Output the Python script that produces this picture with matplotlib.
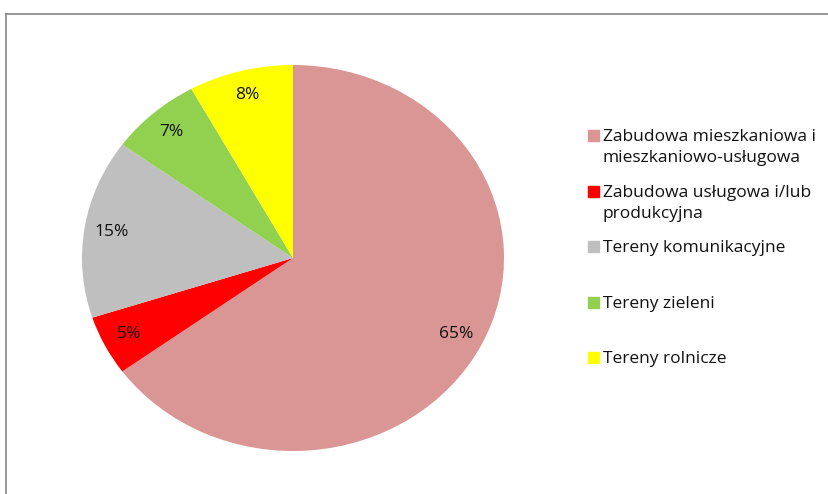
import matplotlib.pyplot as plt
from matplotlib.patches import Rectangle
from matplotlib.lines import Line2D

# dane
kategorie = ["Zabudowa mieszkaniowa i\nmieszkaniowo-usługowa",
             "Zabudowa usługowa i/lub\nprodukcyjna",
             "Tereny komunikacyjne",
             "Tereny zieleni",
             "Tereny rolnicze"]
udzialy = [65, 5, 15, 7, 8]
kolory = ["#D99694", "#FF0000", "#BFBFBF", "#92D050", "#FFFF00"]

plt.rcParams['font.family'] = ['Open Sans', 'DejaVu Sans']

W, H = 829, 494
fig = plt.figure(figsize=(W / 100, H / 100), dpi=100)

# ramka wykresu (ucieta z prawej i od dolu)
fig.add_artist(Line2D([6 / W, 1], [1 - 14 / H, 1 - 14 / H], color="#868686", lw=1.2))
fig.add_artist(Line2D([6 / W, 6 / W], [0, 1 - 14 / H], color="#868686", lw=1.2))

# kolo (lekko rozciagniete poziomo jak na oryginale)
x0, x1, y0, y1 = 82, 504, 65, 451
ax = fig.add_axes([x0 / W, 1 - y1 / H, (x1 - x0) / W, (y1 - y0) / H])
wedges, texts, autotexts = ax.pie(udzialy, colors=kolory, startangle=90, counterclock=False,
                                  autopct="%d%%", pctdistance=0.87,
                                  wedgeprops=dict(linewidth=0),
                                  textprops=dict(fontsize=12.5, color="#111111"))
ax.set_aspect('auto')
ax.set_xlim(-1, 1)
ax.set_ylim(-1, 1)

# legenda
ys = [136, 192, 247, 303, 358]
for lab, kol, y in zip(kategorie, kolory, ys):
    fig.add_artist(Rectangle((588 / W, 1 - (y + 5) / H), 11 / W, 11 / H, color=kol,
                             transform=fig.transFigure))
    fig.text(603 / W, 1 - (y - 7) / H, lab, fontsize=12.5, color="#111111",
             va="top", ha="left", linespacing=1.45)

fig.savefig("out.png", dpi=100)
